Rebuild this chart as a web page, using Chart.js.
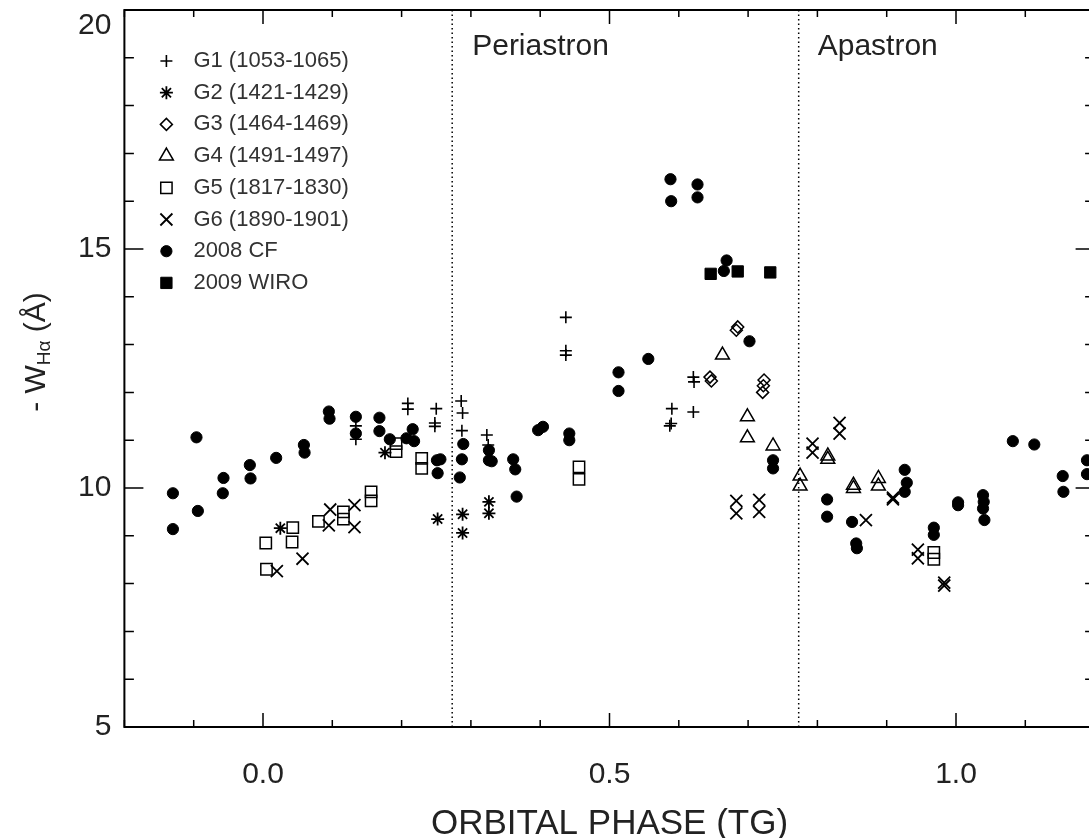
<!DOCTYPE html>
<html>
<head>
<meta charset="utf-8">
<title>H-alpha equivalent width vs orbital phase</title>
<script src="https://cdn.jsdelivr.net/npm/chart.js@4.4.1/dist/chart.umd.min.js"></script>
<style>
  html, body { margin: 0; padding: 0; background: #fff; overflow: hidden; }
</style>
</head>
<body>
<canvas id="ew-chart" width="1100" height="838"></canvas>
<script>
const FONT = "'Liberation Sans', Arial, Helvetica, sans-serif";

// legend labels, one per group
const seriesLabels = [
  "G1 (1053-1065)",
  "G2 (1421-1429)",
  "G3 (1464-1469)",
  "G4 (1491-1497)",
  "G5 (1817-1830)",
  "G6 (1890-1901)",
  "2008 CF",
  "2009 WIRO",
];

// orbital phase (TG) and -W(Halpha) in Angstrom
const g1Phase = [0.134, 0.134, 0.209, 0.209, 0.25, 0.248, 0.248, 0.286, 0.288, 0.287, 0.323,
  0.325, 0.437, 0.437, 0.437, 0.59, 0.589, 0.587, 0.621, 0.621, 0.622];
const g1Width = [11.3, 11.02, 11.77, 11.65, 11.66, 11.36, 11.29, 11.82, 11.57, 11.2, 11.11,
  10.9, 13.57, 12.87, 12.78, 11.66, 11.35, 11.3, 11.59, 12.32, 12.22];

const g2Phase = [0.025, 0.176, 0.252, 0.288, 0.288, 0.326, 0.326];
const g2Width = [9.16, 10.74, 9.35, 9.45, 9.06, 9.71, 9.47];

const g3Phase = [0.645, 0.647, 0.683, 0.685, 0.721, 0.722, 0.723];
const g3Width = [12.32, 12.24, 13.3, 13.37, 12.0, 12.14, 12.26];

const g4Phase = [0.663, 0.699, 0.699, 0.736, 0.775, 0.775, 0.815, 0.815, 0.852, 0.852, 0.888, 0.888];
const g4Width = [12.78, 11.49, 11.05, 10.88, 10.25, 10.04, 10.67, 10.6, 10.06, 9.99, 10.2, 10.04];

const g5Phase = [0.004, 0.005, 0.042, 0.043, 0.08, 0.116, 0.116, 0.156, 0.156, 0.192, 0.192,
  0.229, 0.229, 0.456, 0.456, 0.968, 0.968];
const g5Width = [8.85, 8.3, 8.87, 9.17, 9.3, 9.5, 9.35, 9.92, 9.73, 10.93, 10.76,
  10.62, 10.41, 10.44, 10.18, 8.65, 8.51];

const g6Phase = [0.02, 0.057, 0.095, 0.097, 0.132, 0.132, 0.683, 0.683, 0.716, 0.716, 0.793,
  0.793, 0.832, 0.832, 0.87, 0.909, 0.909, 0.945, 0.945, 0.983, 0.983];
const g6Width = [8.26, 8.52, 9.22, 9.55, 9.18, 9.64, 9.73, 9.47, 9.75, 9.5, 10.93,
  10.74, 11.36, 11.14, 9.33, 9.8, 9.76, 8.71, 8.53, 8.02, 7.96];

const cfPhase = [-0.13, -0.13, -0.096, -0.094, -0.057, -0.058, -0.019, -0.018, 0.019, 0.059,
  0.06, 0.095, 0.096, 0.134, 0.134, 0.168, 0.168, 0.183, 0.216, 0.207, 0.218, 0.251, 0.256,
  0.252, 0.289, 0.287, 0.284, 0.326, 0.326, 0.33, 0.361, 0.364, 0.366, 0.397, 0.404, 0.442,
  0.442, 0.513, 0.513, 0.556, 0.588, 0.589, 0.627, 0.627, 0.669, 0.665, 0.702, 0.736, 0.736,
  0.814, 0.814, 0.85, 0.856, 0.857, 0.926, 0.929, 0.926, 0.968, 0.968, 1.003, 1.003, 1.039,
  1.04, 1.039, 1.041, 1.082, 1.113, 1.154, 1.155, 1.189, 1.189];
const cfWidth = [9.89, 9.14, 11.06, 9.52, 10.21, 9.89, 10.48, 10.2, 10.63, 10.9,
  10.74, 11.6, 11.45, 11.49, 11.14, 11.47, 11.19, 11.02, 11.23, 11.04, 10.98, 10.58, 10.6,
  10.31, 10.92, 10.6, 10.22, 10.79, 10.58, 10.56, 10.6, 10.39, 9.82, 11.21, 11.28, 11.14,
  11.0, 12.42, 12.03, 12.7, 16.46, 16.0, 16.35, 16.08, 14.76, 14.54, 13.07, 10.58, 10.41,
  9.76, 9.4, 9.29, 8.84, 8.74, 10.38, 10.11, 9.92, 9.17, 9.02, 9.7, 9.64, 9.85,
  9.71, 9.57, 9.33, 10.98, 10.91, 10.25, 9.92, 10.58, 10.29];

const wiroPhase = [0.646, 0.685, 0.732];
const wiroWidth = [14.48, 14.53, 14.51];

// periastron / apastron phases
const periastronPhase = 0.273;
const apastronPhase = 0.773;

// labelled ticks (the top y label sits a little below its tick, as in the original)
const xTickLabels = [0.0, 0.5, 1.0];
const yTickLabels = [5, 10, 15, 20];
const yTopLabel = 20;

const groups = [
  [g1Phase, g1Width],
  [g2Phase, g2Width],
  [g3Phase, g3Width],
  [g4Phase, g4Width],
  [g5Phase, g5Width],
  [g6Phase, g6Width],
  [cfPhase, cfWidth],
  [wiroPhase, wiroWidth],
];

// plot symbols, same order as the groups
const symbols = [
  { style: "cross", radius: 6, lw: 1.6, fill: "rgba(0,0,0,0)" },
  { style: "star", radius: 6.5, lw: 1.8, fill: "rgba(0,0,0,0)" },
  { style: "rectRot", radius: 6, lw: 1.5, fill: "rgba(0,0,0,0)" },
  { style: "triangle", radius: 8, lw: 1.5, fill: "rgba(0,0,0,0)" },
  { style: "rect", radius: 8, lw: 1.5, fill: "rgba(0,0,0,0)" },
  { style: "crossRot", radius: 8.5, lw: 1.8, fill: "rgba(0,0,0,0)" },
  { style: "circle", radius: 5.6, lw: 1, fill: "#000" },
  { style: "rect", radius: 8, lw: 1, fill: "#000" },
];

function toPoints(phase, width) {
  return phase.map((p, i) => ({ x: p, y: width[i] }));
}

function isLabelled(v, list) {
  return list.some((m) => Math.abs(m - v) < 1e-6);
}

const datasets = groups.map(([p, w], i) => ({
  label: seriesLabels[i],
  data: toPoints(p, w),
  pointStyle: symbols[i].style,
  pointRadius: symbols[i].radius,
  pointHoverRadius: symbols[i].radius,
  pointBorderWidth: symbols[i].lw,
  pointBackgroundColor: symbols[i].fill,
  pointBorderColor: "#000",
}));

// dotted vertical markers
[periastronPhase, apastronPhase].forEach((ph) => {
  datasets.push({
    label: "",
    data: [{ x: ph, y: 5 }, { x: ph, y: 20 }],
    showLine: true,
    borderColor: "#000",
    borderWidth: 1.5,
    borderDash: [1.5, 3],
    pointRadius: 0,
    pointHoverRadius: 0,
  });
});

// box and inward ticks on all four sides
const frameTicks = {
  id: "frameTicks",
  beforeDatasetsDraw(chart) {
    const { ctx, chartArea: a, scales: { x, y } } = chart;
    ctx.save();
    ctx.strokeStyle = "#000";
    ctx.lineWidth = 2;
    ctx.strokeRect(a.left, a.top, a.right - a.left, a.bottom - a.top);
    ctx.lineWidth = 1.5;
    ctx.beginPath();
    x.ticks.forEach((t) => {
      const px = x.getPixelForValue(t.value);
      const len = isLabelled(t.value, xTickLabels) ? 14 : 7;
      ctx.moveTo(px, a.bottom);
      ctx.lineTo(px, a.bottom - len);
      ctx.moveTo(px, a.top);
      ctx.lineTo(px, a.top + len);
    });
    y.ticks.forEach((t) => {
      const py = y.getPixelForValue(t.value);
      const len = isLabelled(t.value, yTickLabels) ? 19 : 9.5;
      ctx.moveTo(a.left, py);
      ctx.lineTo(a.left + len, py);
      ctx.moveTo(a.right, py);
      ctx.lineTo(a.right - len, py);
    });
    ctx.stroke();
    ctx.restore();
  },
};

// legend inside the plot, top left
const insetLegend = {
  id: "insetLegend",
  afterDraw(chart) {
    const { ctx, chartArea } = chart;
    const x0 = chartArea.left + 42;
    const y0 = chartArea.top + 51;
    const step = 31.7;
    ctx.save();
    ctx.font = "22px " + FONT;
    ctx.textBaseline = "middle";
    ctx.textAlign = "left";
    seriesLabels.forEach((label, i) => {
      const ds = chart.data.datasets[i];
      const y = y0 + i * step;
      ctx.fillStyle = ds.pointBackgroundColor;
      ctx.strokeStyle = ds.pointBorderColor;
      ctx.lineWidth = ds.pointBorderWidth;
      Chart.helpers.drawPoint(ctx, {
        pointStyle: ds.pointStyle,
        radius: ds.pointRadius,
        rotation: 0,
        borderWidth: ds.pointBorderWidth,
      }, x0, y);
      ctx.fillStyle = "#333";
      ctx.fillText(label, x0 + 27, y);
    });
    ctx.restore();
  },
};

// Periastron / Apastron captions, top y label and the y axis title with subscript
const annotations = {
  id: "annotations",
  afterDraw(chart) {
    const { ctx, chartArea: a, scales: { x, y } } = chart;
    ctx.save();
    ctx.fillStyle = "#222";
    ctx.font = "30px " + FONT;
    ctx.textBaseline = "middle";
    ctx.textAlign = "left";
    ctx.fillText("Periastron", x.getPixelForValue(periastronPhase) + 20, a.top + 37);
    ctx.fillText("Apastron", x.getPixelForValue(apastronPhase) + 19, a.top + 37);

    ctx.textAlign = "right";
    ctx.fillText(String(yTopLabel), a.left - 13, y.getPixelForValue(yTopLabel) + 16);

    ctx.textAlign = "left";
    ctx.translate(37, 352);
    ctx.rotate(-Math.PI / 2);
    const parts = [
      { t: "- W", size: 30, dy: 0 },
      { t: "H\u03b1", size: 19, dy: 8 },
      { t: " (\u00c5)", size: 30, dy: 0 },
    ];
    let total = 0;
    parts.forEach((p) => {
      ctx.font = p.size + "px " + FONT;
      p.w = ctx.measureText(p.t).width;
      total += p.w;
    });
    let cx = -total / 2;
    parts.forEach((p) => {
      ctx.font = p.size + "px " + FONT;
      ctx.fillText(p.t, cx, p.dy);
      cx += p.w;
    });
    ctx.restore();
  },
};

const ctx = document.getElementById("ew-chart");

const ewChart = new Chart(ctx, {
  type: "scatter",
  data: { datasets: datasets },
  options: {
    responsive: false,
    animation: false,
    layout: { autoPadding: false, padding: { top: 10, right: 5.4, left: 0, bottom: 0 } },
    plugins: {
      legend: { display: false },
      tooltip: { enabled: false },
    },
    scales: {
      x: {
        type: "linear",
        min: -0.2,
        max: 1.2,
        grid: { color: "rgba(0,0,0,0)", drawOnChartArea: false, drawTicks: true, tickLength: 30 },
        border: { display: false },
        ticks: {
          stepSize: 0.1,
          autoSkip: false,
          maxRotation: 0,
          padding: 0,
          color: "#222",
          font: { family: FONT, size: 30 },
          callback: (v) => (isLabelled(v, xTickLabels) ? (Math.abs(v) < 1e-9 ? 0 : v).toFixed(1) : ""),
        },
        title: {
          display: true,
          text: "ORBITAL PHASE (TG)",
          color: "#222",
          font: { family: FONT, size: 35, lineHeight: 0.8 },
          padding: { top: 0, bottom: 0 },
        },
        afterFit: (scale) => {
          scale.height = 111;
        },
      },
      y: {
        type: "linear",
        min: 5,
        max: 20,
        grid: { color: "rgba(0,0,0,0)", drawOnChartArea: false, drawTicks: true, tickLength: 13 },
        border: { display: false },
        ticks: {
          stepSize: 1,
          autoSkip: false,
          padding: 0,
          color: "#222",
          font: { family: FONT, size: 30, lineHeight: 0.6 },
          callback: (v) =>
            isLabelled(v, yTickLabels) && v !== yTopLabel ? String(v) : "",
        },
        afterFit: (scale) => {
          scale.width = 124.4;
        },
      },
    },
  },
  plugins: [frameTicks, insetLegend, annotations],
});
</script>
</body>
</html>
